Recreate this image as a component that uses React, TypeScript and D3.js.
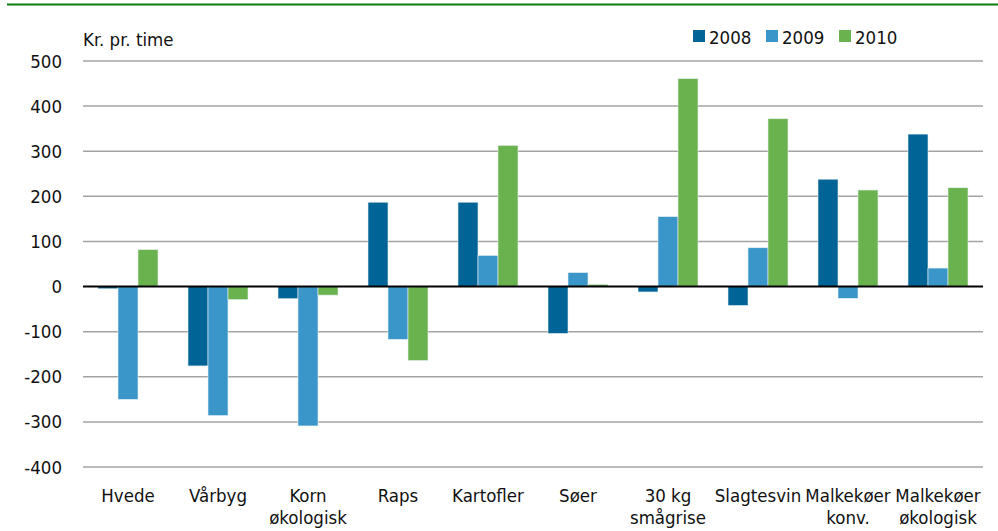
import React from "react";
import * as d3 from "d3";

const categories = [
  ["Hvede"],
  ["Vårbyg"],
  ["Korn", "økologisk"],
  ["Raps"],
  ["Kartofler"],
  ["Søer"],
  ["30 kg", "smågrise"],
  ["Slagtesvin"],
  ["Malkekøer", "konv."],
  ["Malkekøer", "økologisk"],
];
const seriesNames = ["2008", "2009", "2010"];
const values2008 = [-5, -176, -27, 187, 187, -104, -12, -42, 238, 338];
const values2009 = [-250, -286, -309, -117, 69, 31, 155, 86, -26, 41];
const values2010 = [82, -29, -19, -164, 313, 5, 461, 372, 214, 219];
const colors = ["#006496", "#3a96c9", "#6ab24e"];
const yTicks = [500, 400, 300, 200, 100, 0, -100, -200, -300, -400];

const W = 998;
const H = 531;
const left = 83;
const right = 983;
const top = 61;
const bottom = 467;
const FONT = "'DejaVu Sans Condensed', 'Open Sans', sans-serif";
const FS = 18.5;

export default function App() {
  const series = [values2008, values2009, values2010];
  const x0 = d3
    .scaleBand<number>()
    .domain(d3.range(categories.length))
    .range([left, right])
    .paddingInner(30 / 90)
    .paddingOuter(15 / 90);
  const x1 = d3.scaleBand<number>().domain([0, 1, 2]).range([0, x0.bandwidth()]);
  const y = d3.scaleLinear().domain([-400, 500]).range([bottom, top]);

  return (
    <svg width={W} height={H} style={{ position: "absolute", left: 0, top: 0 }} fontFamily={FONT}>
      <rect x={0} y={0} width={W} height={H} fill="#fff" />
      <line x1={7} x2={W} y1={4.5} y2={4.5} stroke="#0a7d12" strokeWidth={2} />
      <text x={83} y={46} fontSize={FS} fill="#111">Kr. pr. time</text>
      {yTicks.map((t) => (
        <g key={t}>
          {t !== 0 && (
            <line x1={left} x2={right} y1={y(t)} y2={y(t)} stroke="#a3a3a3" strokeWidth={1.5} />
          )}
          <text x={62} y={y(t) + 6.5} fontSize={FS} textAnchor="end" fill="#111">
            {t}
          </text>
        </g>
      ))}
      {series.map((vals, si) =>
        vals.map((v, ci) => {
          const bx = (x0(ci) as number) + (x1(si) as number);
          const y0 = y(0);
          const yv = y(v);
          return (
            <rect
              key={`${si}-${ci}`}
              x={bx}
              y={Math.min(y0, yv)}
              width={x1.bandwidth()}
              height={Math.abs(yv - y0)}
              fill={colors[si]}
              stroke="#e6f0f5"
              strokeWidth={0.6}
            />
          );
        })
      )}
      <line x1={left} x2={right} y1={y(0)} y2={y(0)} stroke="#000" strokeWidth={2} />
      {categories.map((lines, ci) => {
        const cx = (x0(ci) as number) + x0.bandwidth() / 2;
        return (
          <text key={ci} x={cx} y={502} fontSize={FS} textAnchor="middle" fill="#111">
            {lines.map((l, li) => (
              <tspan key={li} x={cx} dy={li === 0 ? 0 : 22}>
                {l}
              </tspan>
            ))}
          </text>
        );
      })}
      {seriesNames.map((n, i) => {
        const lx = [693, 766, 839][i];
        return (
          <g key={n}>
            <rect x={lx} y={30} width={12} height={12} fill={colors[i]} />
            <text x={lx + 16} y={44} fontSize={FS} fill="#111">
              {n}
            </text>
          </g>
        );
      })}
    </svg>
  );
}
